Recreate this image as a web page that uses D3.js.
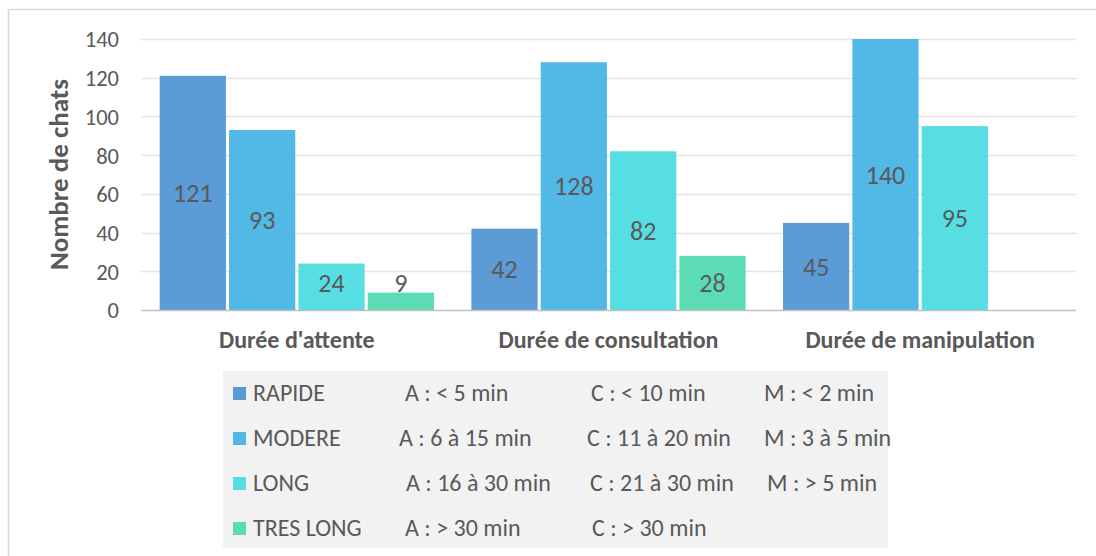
<!DOCTYPE html>
<html>
<head>
<meta charset="utf-8">
<script src="https://cdn.jsdelivr.net/npm/d3@7"></script>
<style>
  html, body { margin: 0; padding: 0; background: #fff; }
  svg { display: block; font-family: Carlito, Calibri, Lato, sans-serif; }
</style>
</head>
<body>
<svg id="chart" width="1096" height="556"></svg>
<script>
// ---- Data ----
const categories = ["Durée d'attente", "Durée de consultation", "Durée de manipulation"];
const seriesNames = ["RAPIDE", "MODERE", "LONG", "TRES LONG"];
const rapide   = [121, 42, 45];
const modere   = [93, 128, 140];
const longS    = [24, 82, 95];
const tresLong = [9, 28, null];
const yTicks = [0, 20, 40, 60, 80, 100, 120, 140];
const yTitle = "Nombre de chats";
const legendA = ["A : < 5 min", "A : 6 à 15 min", "A : 16 à 30 min", "A : > 30 min"];
const legendC = ["C : < 10 min", "C : 11 à 20 min", "C : 21 à 30 min", "C : > 30 min"];
const legendM = ["M : < 2 min", "M : 3 à 5 min", "M : > 5 min", ""];

// ---- Styles / layout ----
const colors = ["#4F93D3", "#45B3E4", "#4ADBE1", "#4FD9B1"];
const textColor = "#595959";
const plot = { left: 141, right: 1076, top: 39, bottom: 310 };

const svg = d3.select("#chart");

// outer chart border (extends beyond the picture at right and bottom)
svg.append("rect")
  .attr("x", 8.5).attr("y", 9.5).attr("width", 1200).attr("height", 700)
  .attr("fill", "#fff").attr("stroke", "#D9D9D9").attr("stroke-width", 1.5);

const seriesValues = [rapide, modere, longS, tresLong];

const x0 = d3.scaleBand().domain(categories).range([plot.left, plot.right])
  .paddingInner(0.12).paddingOuter(0.06);
const x1 = d3.scaleBand().domain(seriesNames).range([0, x0.bandwidth()])
  .paddingInner(0.045).paddingOuter(0);
const y = d3.scaleLinear().domain([0, 140]).range([plot.bottom, plot.top]);

// gridlines
svg.append("g").selectAll("line").data(yTicks.filter(t => t > 0)).join("line")
  .attr("x1", plot.left).attr("x2", plot.right)
  .attr("y1", d => Math.round(y(d)) + 0.5).attr("y2", d => Math.round(y(d)) + 0.5)
  .attr("stroke", "#E4E4E4").attr("stroke-width", 1.5);

// y axis tick labels
const yAxis = d3.axisLeft(y).tickValues(yTicks).tickSize(0).tickPadding(0);
const gy = svg.append("g").attr("transform", `translate(119,0)`).call(yAxis);
gy.select(".domain").remove();
gy.selectAll("text").attr("fill", textColor).style("font-size", "22.5px")
  .style("font-family", "Carlito, Calibri, Lato, sans-serif").attr("dy", "0.35em");

// bars
const rows = [];
categories.forEach((c, i) => {
  seriesNames.forEach((s, j) => {
    const v = seriesValues[j][i];
    if (v !== null && v !== undefined) rows.push({ cat: c, ser: s, j, v });
  });
});

svg.append("g").selectAll("rect").data(rows).join("rect")
  .attr("x", d => x0(d.cat) + x1(d.ser))
  .attr("y", d => y(d.v))
  .attr("width", x1.bandwidth())
  .attr("height", d => y(0) - y(d.v))
  .attr("fill", d => colors[d.j])
  .attr("fill-opacity", 0.93);

// value labels
svg.append("g").selectAll("text").data(rows).join("text")
  .attr("x", d => x0(d.cat) + x1(d.ser) + x1.bandwidth() / 2)
  .attr("y", d => Math.min((y(d.v) + y(0)) / 2, y(0) - 27))
  .attr("dy", "0.35em")
  .attr("text-anchor", "middle")
  .attr("fill", textColor)
  .style("font-size", "26px")
  .text(d => d.v);

// x axis baseline
svg.append("line")
  .attr("x1", plot.left).attr("x2", plot.right)
  .attr("y1", y(0) + 0.5).attr("y2", y(0) + 0.5)
  .attr("stroke", "#BFBFBF").attr("stroke-width", 1.5);

// category labels
const xAxis = d3.axisBottom(x0).tickSize(0).tickPadding(0);
const gx = svg.append("g").attr("transform", `translate(0,${y(0)})`).call(xAxis);
gx.select(".domain").remove();
gx.selectAll("text").attr("fill", textColor).attr("y", 38).attr("dy", 0)
  .style("font-size", "24px").style("font-weight", "bold")
  .style("font-family", "Carlito, Calibri, Lato, sans-serif");

// y title
svg.append("text")
  .attr("transform", `translate(68,${(plot.top + plot.bottom) / 2}) rotate(-90)`)
  .attr("text-anchor", "middle")
  .attr("fill", textColor)
  .style("font-size", "27px").style("font-weight", "bold")
  .text(yTitle);

// legend
const lg = svg.append("g");
lg.append("rect").attr("x", 223).attr("y", 371).attr("width", 665).attr("height", 177)
  .attr("fill", "#F2F2F2");
const rowBase = [401, 446, 491, 536];
const colAx = [405, 399, 406, 405];
const colCx = [591, 587, 590, 592];
const colMx = [764, 764, 767, 767];
seriesNames.forEach((s, i) => {
  lg.append("rect").attr("x", 233).attr("y", rowBase[i] - 14).attr("width", 13).attr("height", 13)
    .attr("fill", colors[i]).attr("fill-opacity", 0.93);
  const t = (x, str) => lg.append("text").attr("x", x).attr("y", rowBase[i])
    .attr("fill", textColor).style("font-size", "24px").text(str);
  t(253, s);
  t(colAx[i], legendA[i]);
  t(colCx[i], legendC[i]);
  if (legendM[i]) t(colMx[i], legendM[i]);
});
</script>
</body>
</html>
